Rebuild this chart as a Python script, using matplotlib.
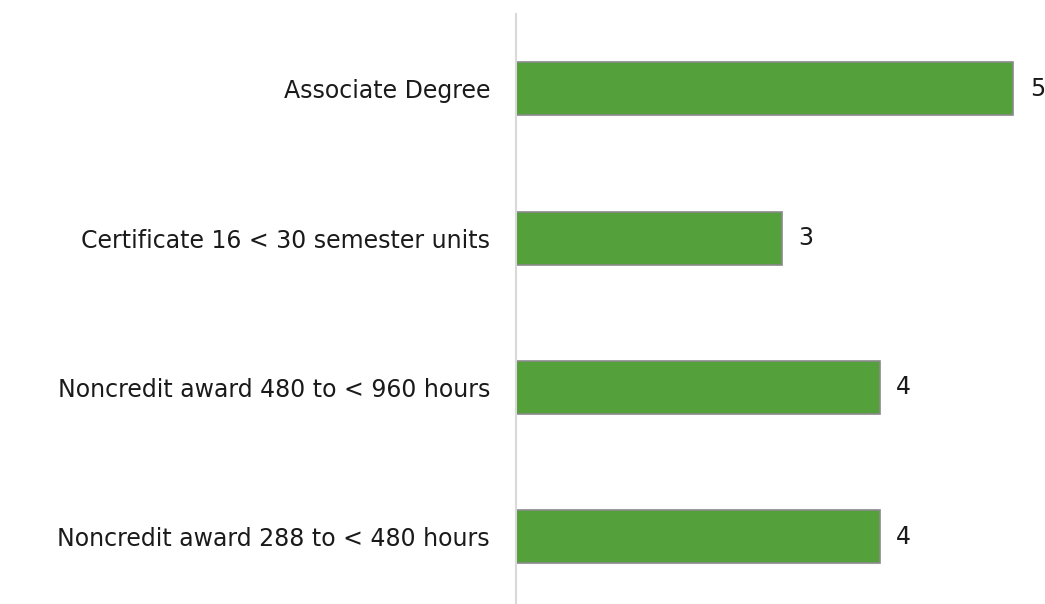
import matplotlib.pyplot as plt

# Data
categories = ['Associate Degree',
              'Certificate 16 < 30 semester units',
              'Noncredit award 480 to < 960 hours',
              'Noncredit award 288 to < 480 hours']
values = [5.2, 2.78, 3.8, 3.8]

plt.rcParams['font.family'] = ['DejaVu Sans']

fig = plt.figure(figsize=(10.45, 6.04), dpi=100)
ax = fig.add_axes([516 / 1045, 0, 1 - 516 / 1045, 1 - 14 / 604])

y = range(len(categories))
bars = ax.barh(y, values, height=0.355, color='#54a03b',
               edgecolor='#8a8a8a', linewidth=1.2)

for b, v in zip(bars, values):
    ax.text(b.get_width() + 0.17, b.get_y() + b.get_height() / 2,
            '{:.0f}'.format(v), va='center', ha='left',
            fontsize=17, color='#1a1a1a')

ax.set_yticks(list(y))
ax.set_yticklabels(categories, fontsize=17, color='#1a1a1a')
ax.tick_params(axis='y', length=0, pad=18.7)
ax.set_xticks([])
ax.set_xlim(0, 5.53)
ax.set_ylim(3.45, -0.5)

for s in ['top', 'right', 'bottom']:
    ax.spines[s].set_visible(False)
ax.spines['left'].set_color('#d9d9d9')
ax.spines['left'].set_linewidth(1.5)

fig.savefig('out.png', dpi=100)
